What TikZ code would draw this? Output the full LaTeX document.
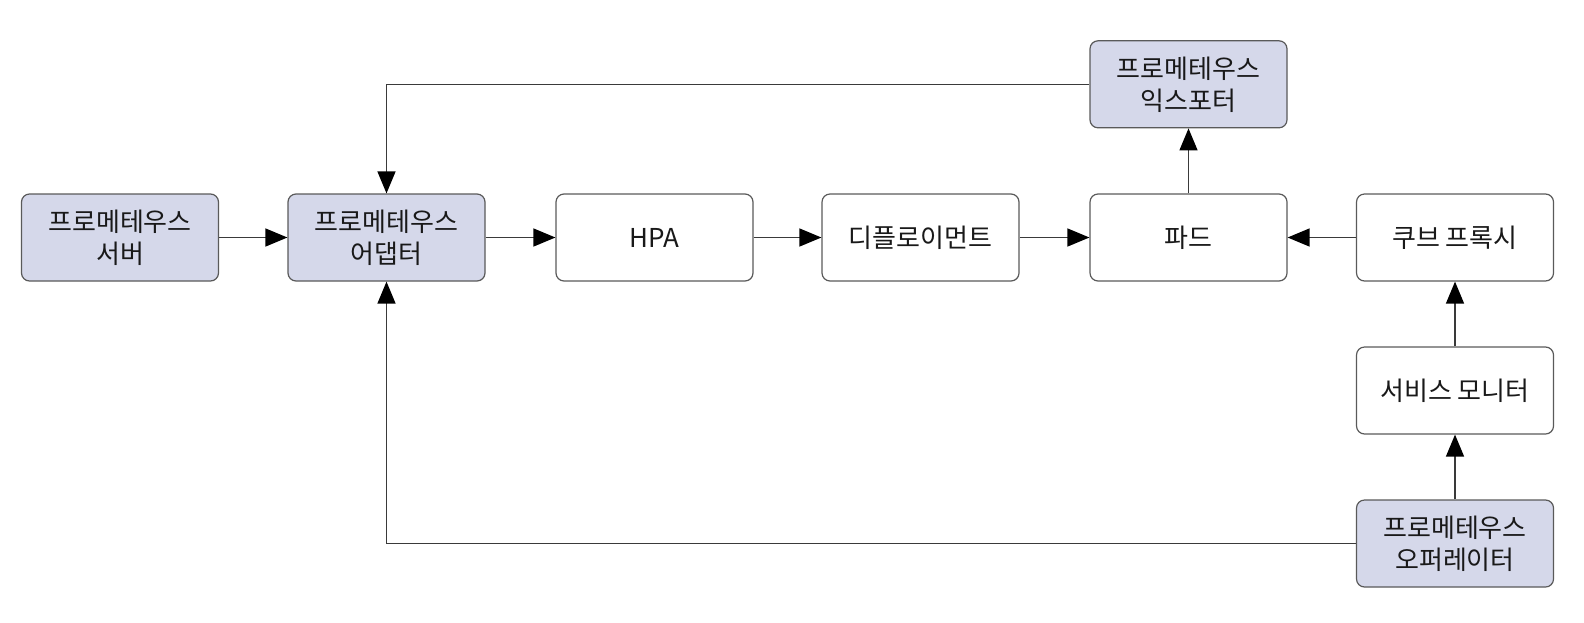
\documentclass[tikz,border=0pt]{standalone}
\usepackage{fontspec}
\setmainfont{Noto Sans CJK KR}
\usetikzlibrary{arrows.meta}
\definecolor{boxfill}{HTML}{D5D8EA}
\definecolor{boxline}{HTML}{5A5A5A}
\definecolor{arrowline}{HTML}{3A3A3A}
\tikzset{
  base/.style={draw=boxline, line width=1.2pt, rounded corners=8pt, minimum width=197pt, minimum height=87pt, align=center, inner sep=0pt, font=\fontsize{26}{32}\selectfont, text=black!90},
  plainbox/.style={base, fill=white},
  promobox/.style={base, fill=boxfill},
  conn/.style={draw=arrowline, line width=1.4pt, -{Triangle[length=22pt,width=18pt,fill=black,color=black]}}
}
\begin{document}
\begin{tikzpicture}[x=1pt,y=-1pt]
\useasboundingbox (0,0) rectangle (1584,622);
\node[promobox] (server) at (120,237.5) {프로메테우스\\서버};
\node[promobox] (adapter) at (386.5,237.5) {프로메테우스\\어댑터};
\node[plainbox] (hpa) at (654.5,237.5) {HPA};
\node[plainbox] (deploy) at (920.5,237.5) {디플로이먼트};
\node[plainbox] (pod) at (1188.5,237.5) {파드};
\node[plainbox] (proxy) at (1455,237.5) {쿠브 프록시};
\node[promobox] (exporter) at (1188.5,84.3) {프로메테우스\\익스포터};
\node[plainbox] (sm) at (1455,390.5) {서비스 모니터};
\node[promobox] (operator) at (1455,543.5) {프로메테우스\\오퍼레이터};

\draw[conn] (server) -- (adapter);
\draw[conn] (adapter) -- (hpa);
\draw[conn] (hpa) -- (deploy);
\draw[conn] (deploy) -- (pod);
\draw[conn] (proxy) -- (pod);
\draw[conn] (pod) -- (exporter);
\draw[conn] (sm) -- (proxy);
\draw[conn] (operator) -- (sm);
\draw[conn] (exporter.west) -| (adapter.north);
\draw[conn] (operator.west) -| (adapter.south);
\end{tikzpicture}
\end{document}
